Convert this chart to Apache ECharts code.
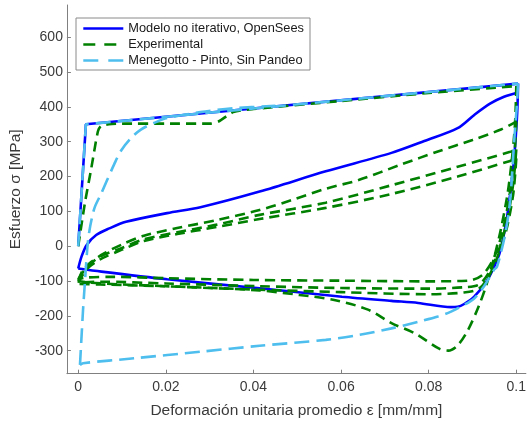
<!DOCTYPE html>
<html>
<head>
<meta charset="utf-8">
<script src="https://cdn.jsdelivr.net/npm/echarts@6/dist/echarts.min.js"></script>
<style>
  html, body { margin: 0; padding: 0; background: #ffffff; }
  #chart { width: 529px; height: 426px; }
</style>
</head>
<body>
<div id="chart"></div>
<script>
// Cyclic stress-strain response of a steel bar: strain [mm/mm] vs stress [MPa]

// Non-iterative model (OpenSees)
const opsLoad = [[0, 0], [0.00175, 350], [0.1004, 467]];
const opsUnload = [[0.1004, 467], [0.1002, 382], [0.0994, 238], [0.0979, 85], [0.0964, -11],
  [0.0956, -40], [0.0934, -97], [0.0904, -145], [0.0881, -166], [0.0866, -174], [0.0851, -175],
  [0.0776, -163], [0.0715, -157], [0.0602, -145], [0.0414, -121], [0.0203, -95], [0.0053, -73], [0, -64]];
const opsReload = [[0, -64], [0.00075, -30], [0.0019, 3], [0.0041, 32], [0.0071, 51], [0.0109, 70],
  [0.0203, 95], [0.0279, 112], [0.0414, 157], [0.0565, 215], [0.0715, 268], [0.079, 302],
  [0.0866, 339], [0.0904, 377], [0.0941, 410], [0.0972, 429], [0.0998, 439], [0.1004, 442]];

// Experimental test
const expLoad = [[0, 0], [0.0015, 122], [0.003, 225], [0.0045, 330], [0.0052, 345], [0.007, 350],
  [0.01, 352], [0.02, 352], [0.03, 352], [0.032, 358], [0.0354, 385], [0.04, 394], [0.06, 417],
  [0.08, 440], [0.1, 460]];
const expUnload1 = [[0.1, 460], [0.0997, 350], [0.099, 250], [0.098, 150], [0.0965, 50], [0.095, -30],
  [0.0932, -110], [0.0915, -170], [0.089, -240], [0.0866, -285], [0.0845, -300], [0.0825, -295],
  [0.0768, -250], [0.0715, -221], [0.0663, -183], [0.0587, -155], [0.0505, -140], [0.0414, -127],
  [0.03, -120], [0.02, -115], [0.01, -110], [0.003, -105], [0, -100]];
const expReload1 = [[0, -100], [0.001, -70], [0.003, -45], [0.006, -20], [0.01, 5], [0.015, 30],
  [0.0226, 52], [0.0316, 75], [0.0414, 104], [0.0489, 133], [0.0565, 165], [0.064, 190],
  [0.0738, 235], [0.0821, 272], [0.09, 305], [0.0965, 335], [0.1, 358]];
const expUnload2 = [[0.1, 358], [0.0995, 250], [0.0985, 150], [0.097, 50], [0.095, -30], [0.0925, -80],
  [0.09, -97], [0.087, -100], [0.08, -101], [0.06, -99], [0.04, -97], [0.02, -92], [0.008, -88],
  [0.002, -90], [0, -95]];
const expReload2 = [[0, -95], [0.002, -60], [0.005, -30], [0.01, -5], [0.015, 20], [0.0226, 40],
  [0.0316, 62], [0.0414, 90], [0.0565, 125], [0.0715, 175], [0.0866, 228], [0.0986, 271], [0.1, 278]];
const expUnload3 = [[0.1, 278], [0.0993, 180], [0.098, 80], [0.0963, 0], [0.094, -70], [0.0915, -110],
  [0.088, -118], [0.08, -122], [0.06, -120], [0.0414, -115], [0.02, -107], [0.005, -102], [0, -105]];
const expReload3 = [[0, -105], [0.002, -65], [0.005, -38], [0.01, -10], [0.015, 15], [0.0226, 35],
  [0.0316, 55], [0.0414, 78], [0.0565, 110], [0.0715, 150], [0.0866, 200], [0.0986, 245], [0.1, 252]];
const expUnload4 = [[0.1, 252], [0.0993, 150], [0.0978, 50], [0.096, -20], [0.094, -80], [0.0915, -122],
  [0.088, -133], [0.08, -138], [0.06, -132], [0.0414, -125], [0.02, -115], [0.005, -110], [0, -108]];

// Menegotto - Pinto model without buckling
const mpLoad = [[0, 0], [0.00175, 350], [0.1004, 467]];
const mpUnload = [[0.1004, 467], [0.1001, 400], [0.0995, 300], [0.0986, 132], [0.0975, 37],
  [0.0956, -59], [0.0949, -68], [0.0926, -116], [0.0904, -150], [0.0873, -174], [0.0851, -188],
  [0.0821, -202], [0.0776, -217], [0.0715, -236], [0.064, -255], [0.0565, -269], [0.0414, -286],
  [0.0279, -303], [0.0128, -322], [0.0011, -336], [0.0004, -341]];
const mpReload = [[0.0004, -341], [0.0008, -250], [0.0011, -183], [0.0016, -90], [0.0021, -2],
  [0.0025, 40], [0.0031, 80], [0.0038, 113], [0.0052, 150], [0.0066, 190], [0.0082, 235],
  [0.0098, 275], [0.012, 310], [0.0143, 335], [0.0175, 355], [0.0203, 368], [0.0279, 385],
  [0.0354, 396], [0.045, 403]];

// Axis ticks
const xTicks = [0, 0.02, 0.04, 0.06, 0.08, 0.1];
const yTicks = [-300, -200, -100, 0, 100, 200, 300, 400, 500, 600];

const seriesNames = ['Modelo no iterativo, OpenSees', 'Experimental', 'Menegotto - Pinto, Sin Pandeo'];
const seriesColors = ['#0000ff', '#008000', '#4dbeee'];
const seriesDash = ['solid', [10, 6], [15, 7]];

const fontFamily = '"Liberation Sans", Arial, Helvetica, sans-serif';
const axisColor = '#808080';
const textColor = '#3a3a3a';

// One line series per branch; branches of the same curve share a legend name
function branch(idx, data, smooth, z) {
  return {
    name: seriesNames[idx], type: 'line', data: data,
    symbol: 'none', showSymbol: false, smooth: smooth,
    lineStyle: { color: seriesColors[idx], width: 2.6, type: seriesDash[idx] },
    itemStyle: { color: seriesColors[idx] }, z: z
  };
}

const series = [
  branch(0, opsLoad, false, 2),
  branch(0, opsUnload, 0.3, 2),
  branch(0, opsReload, 0.3, 2),
  branch(1, expLoad, 0.25, 3),
  branch(1, expUnload1, 0.3, 3),
  branch(1, expReload1, 0.3, 3),
  branch(1, expUnload2, 0.3, 3),
  branch(1, expReload2, 0.3, 3),
  branch(1, expUnload3, 0.3, 3),
  branch(1, expReload3, 0.3, 3),
  branch(1, expUnload4, 0.3, 3),
  branch(2, mpLoad, false, 4),
  branch(2, mpUnload, 0.3, 4),
  branch(2, mpReload, 0.3, 4)
];

const legendHidden = { opacity: 0, borderWidth: 0 };

const chart = echarts.init(document.getElementById('chart'), null, { renderer: 'canvas' });

chart.setOption({
  animation: false,
  backgroundColor: '#ffffff',
  textStyle: { fontFamily: fontFamily },
  grid: { left: 65.3, right: 0, top: 5, bottom: 52.3, containLabel: false },
  legend: {
    orient: 'vertical',
    left: 76,
    top: 18,
    padding: [4, 6, 3, 6],
    itemWidth: 40,
    itemHeight: 14,
    itemGap: 3,
    backgroundColor: '#ffffff',
    borderColor: '#8a8a8a',
    borderWidth: 1,
    borderRadius: 0,
    textStyle: { fontFamily: fontFamily, fontSize: 12.8, color: '#1a1a1a' },
    data: [
      { name: seriesNames[0], itemStyle: legendHidden, lineStyle: { width: 2.6, type: 'solid' } },
      { name: seriesNames[1], itemStyle: legendHidden, lineStyle: { width: 2.6, type: [12, 9] } },
      { name: seriesNames[2], itemStyle: legendHidden, lineStyle: { width: 2.6, type: [15, 10] } }
    ]
  },
  xAxis: {
    type: 'value',
    min: -0.00258,
    max: 0.10219,
    name: 'Deformación unitaria promedio ε [mm/mm]',
    nameLocation: 'middle',
    nameGap: 29,
    nameTextStyle: { fontFamily: fontFamily, fontSize: 15.5, color: textColor },
    axisLine: { show: true, onZero: false, lineStyle: { color: axisColor, width: 1 } },
    axisTick: { show: true, inside: true, length: 4, customValues: xTicks, lineStyle: { color: axisColor } },
    axisLabel: {
      show: true, margin: 6, customValues: xTicks, fontFamily: fontFamily, fontSize: 14, color: textColor,
      formatter: function (v) { return String(Math.round(v * 100) / 100); }
    },
    splitLine: { show: false }
  },
  yAxis: {
    type: 'value',
    min: -366.2,
    max: 692.7,
    name: 'Esfuerzo σ [MPa]',
    nameLocation: 'middle',
    nameGap: 42,
    nameTextStyle: { fontFamily: fontFamily, fontSize: 15.5, color: textColor },
    axisLine: { show: true, onZero: false, lineStyle: { color: axisColor, width: 1 } },
    axisTick: { show: true, inside: true, length: 4, customValues: yTicks, lineStyle: { color: axisColor } },
    axisLabel: {
      show: true, margin: 4, customValues: yTicks, fontFamily: fontFamily, fontSize: 14, color: textColor,
      formatter: function (v) { return String(Math.round(v)); }
    },
    splitLine: { show: false }
  },
  series: series
});
</script>
</body>
</html>
